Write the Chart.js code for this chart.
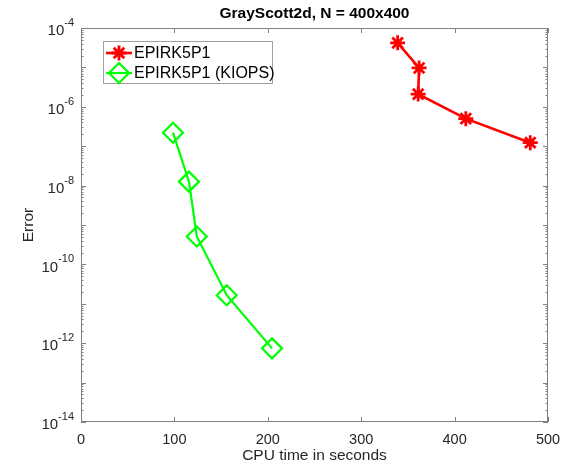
<!DOCTYPE html>
<html>
<head>
<meta charset="utf-8">
<script src="https://cdn.jsdelivr.net/npm/chart.js@4.4.1/dist/chart.umd.min.js"></script>
<style>
  html, body { margin: 0; padding: 0; background: #fff; }
</style>
</head>
<body>
<canvas id="chart" width="564" height="467"></canvas>
<script>
// values
const epirkTime = [339, 362, 361, 412, 481];
const epirkError = [4.2e-5, 9.7e-6, 2.1e-6, 5.0e-7, 1.23e-7];
const kiopsTime = [98.5, 115.6, 124, 156, 204.5];
const kiopsError = [2.2e-7, 1.26e-8, 5.1e-10, 1.65e-11, 7.4e-13];
const xTicks = [0, 100, 200, 300, 400, 500];
const yTickExponents = [-14, -12, -10, -8, -6, -4];
const seriesNames = ["EPIRK5P1", "EPIRK5P1 (KIOPS)"];

const FONT = '"Liberation Sans", Arial, sans-serif';
const AXIS_COLOR = "#262626";

function drawStar(ctx, x, y, r) {
  ctx.beginPath();
  for (let a = 0; a < 4; a++) {
    const ang = (a * Math.PI) / 4;
    ctx.moveTo(x - r * Math.cos(ang), y - r * Math.sin(ang));
    ctx.lineTo(x + r * Math.cos(ang), y + r * Math.sin(ang));
  }
  ctx.stroke();
}

function drawDiamond(ctx, x, y, r) {
  ctx.beginPath();
  ctx.moveTo(x - r, y);
  ctx.lineTo(x, y - r);
  ctx.lineTo(x + r, y);
  ctx.lineTo(x, y + r);
  ctx.closePath();
  ctx.stroke();
}

// matlab-like box, inward ticks, superscript tick labels, title, legend
const matlabAxes = {
  id: "matlabAxes",
  beforeDatasetsDraw(chart) {
    const { ctx, chartArea } = chart;
    const xs = chart.scales.x;
    const ys = chart.scales.y;
    const { left, right, top, bottom } = chartArea;
    ctx.save();
    ctx.strokeStyle = "#808080";
    ctx.lineWidth = 1;
    ctx.strokeRect(left + 0.5, top + 0.5, right - left - 1, bottom - top - 1);

    ctx.beginPath();
    xTicks.forEach((v) => {
      const px = Math.round(xs.getPixelForValue(v)) + 0.5;
      ctx.moveTo(px, bottom);
      ctx.lineTo(px, bottom - 5);
      ctx.moveTo(px, top);
      ctx.lineTo(px, top + 5);
    });
    for (let k = -14; k <= -4; k++) {
      const py = Math.round(ys.getPixelForValue(Math.pow(10, k))) + 0.5;
      ctx.moveTo(left, py);
      ctx.lineTo(left + 5, py);
      ctx.moveTo(right, py);
      ctx.lineTo(right - 5, py);
      if (k < -4) {
        for (let m = 2; m <= 9; m++) {
          const pm = Math.round(ys.getPixelForValue(m * Math.pow(10, k))) + 0.5;
          ctx.moveTo(left, pm);
          ctx.lineTo(left + 2.5, pm);
          ctx.moveTo(right, pm);
          ctx.lineTo(right - 2.5, pm);
        }
      }
    }
    ctx.stroke();

    // y tick labels as 10^k
    ctx.fillStyle = AXIS_COLOR;
    ctx.textAlign = "right";
    ctx.textBaseline = "middle";
    yTickExponents.forEach((k) => {
      const py = ys.getPixelForValue(Math.pow(10, k));
      ctx.font = "11px " + FONT;
      const exp = String(k);
      const ew = ctx.measureText(exp).width;
      ctx.fillText(exp, left - 7, py - 5);
      ctx.font = "15px " + FONT;
      ctx.fillText("10", left - 7 - ew, py + 3);
    });

    // title
    ctx.fillStyle = "#000";
    ctx.font = "bold 15.5px " + FONT;
    ctx.textAlign = "center";
    ctx.fillText("GrayScott2d, N = 400x400", (left + right) / 2, 14);
    ctx.restore();
  },
  afterDraw(chart) {
    const { ctx } = chart;
    ctx.save();
    ctx.fillStyle = "#fff";
    ctx.fillRect(103, 41, 169, 42);
    ctx.strokeStyle = "#a0a0a0";
    ctx.lineWidth = 1;
    ctx.strokeRect(103.5, 41.5, 169, 42);
    const rows = [53, 73];
    chart.data.datasets.forEach((ds, i) => {
      const y = rows[i];
      ctx.strokeStyle = ds.borderColor;
      ctx.lineWidth = ds.borderWidth;
      ctx.beginPath();
      ctx.moveTo(106, y);
      ctx.lineTo(132, y);
      ctx.stroke();
      ctx.lineWidth = ds.pointBorderWidth;
      if (ds.pointStyle === "star") drawStar(ctx, 119, y, ds.pointRadius);
      else drawDiamond(ctx, 119, y, ds.pointRadius);
      ctx.fillStyle = "#000";
      ctx.font = "16px " + FONT;
      ctx.textAlign = "left";
      ctx.textBaseline = "middle";
      ctx.fillText(ds.label, 134, y + 1);
    });
    ctx.restore();
  },
};

new Chart(document.getElementById("chart"), {
  type: "scatter",
  data: {
    datasets: [
      {
        label: seriesNames[0],
        data: epirkTime.map((x, i) => ({ x: x, y: epirkError[i] })),
        showLine: true,
        borderColor: "#ff0000",
        borderWidth: 2.6,
        pointStyle: "star",
        pointRadius: 7.5,
        pointBorderWidth: 2.8,
        pointBorderColor: "#ff0000",
        pointBackgroundColor: "#ff0000",
      },
      {
        label: seriesNames[1],
        data: kiopsTime.map((x, i) => ({ x: x, y: kiopsError[i] })),
        showLine: true,
        borderColor: "#00ff00",
        borderWidth: 2.2,
        pointStyle: "rectRot",
        pointRadius: 10,
        pointBorderWidth: 2.2,
        pointBorderColor: "#00ff00",
        pointBackgroundColor: "rgba(0,0,0,0)",
      },
    ],
  },
  options: {
    responsive: false,
    animation: false,
    devicePixelRatio: 1,
    layout: { padding: { top: 28, right: 16, left: 0, bottom: 0 } },
    plugins: {
      legend: { display: false },
      tooltip: { enabled: false },
      title: { display: false },
    },
    scales: {
      x: {
        type: "linear",
        min: 0,
        max: 500,
        afterBuildTicks: (scale) => {
          scale.ticks = xTicks.map((v) => ({ value: v }));
        },
        ticks: { color: AXIS_COLOR, font: { family: FONT, size: 14.5 }, padding: 9, maxRotation: 0 },
        grid: { display: false, drawTicks: false },
        border: { display: false },
        title: {
          display: true,
          text: "CPU time in seconds",
          color: AXIS_COLOR,
          font: { family: FONT, size: 15.5 },
          padding: { top: 0, bottom: 2 },
        },
        afterFit: (scale) => {
          scale.height = 45;
          scale.paddingLeft = 0;
          scale.paddingRight = 0;
        },
      },
      y: {
        type: "logarithmic",
        min: 1e-14,
        max: 1e-4,
        ticks: { display: false },
        grid: { display: false, drawTicks: false },
        border: { display: false },
        title: {
          display: true,
          text: "Error",
          color: AXIS_COLOR,
          font: { family: FONT, size: 15.5 },
          padding: { top: 19, bottom: 0 },
        },
        afterFit: (scale) => {
          scale.width = 81;
          scale.paddingTop = 0;
          scale.paddingBottom = 0;
        },
      },
    },
  },
  plugins: [matlabAxes],
});
</script>
</body>
</html>
